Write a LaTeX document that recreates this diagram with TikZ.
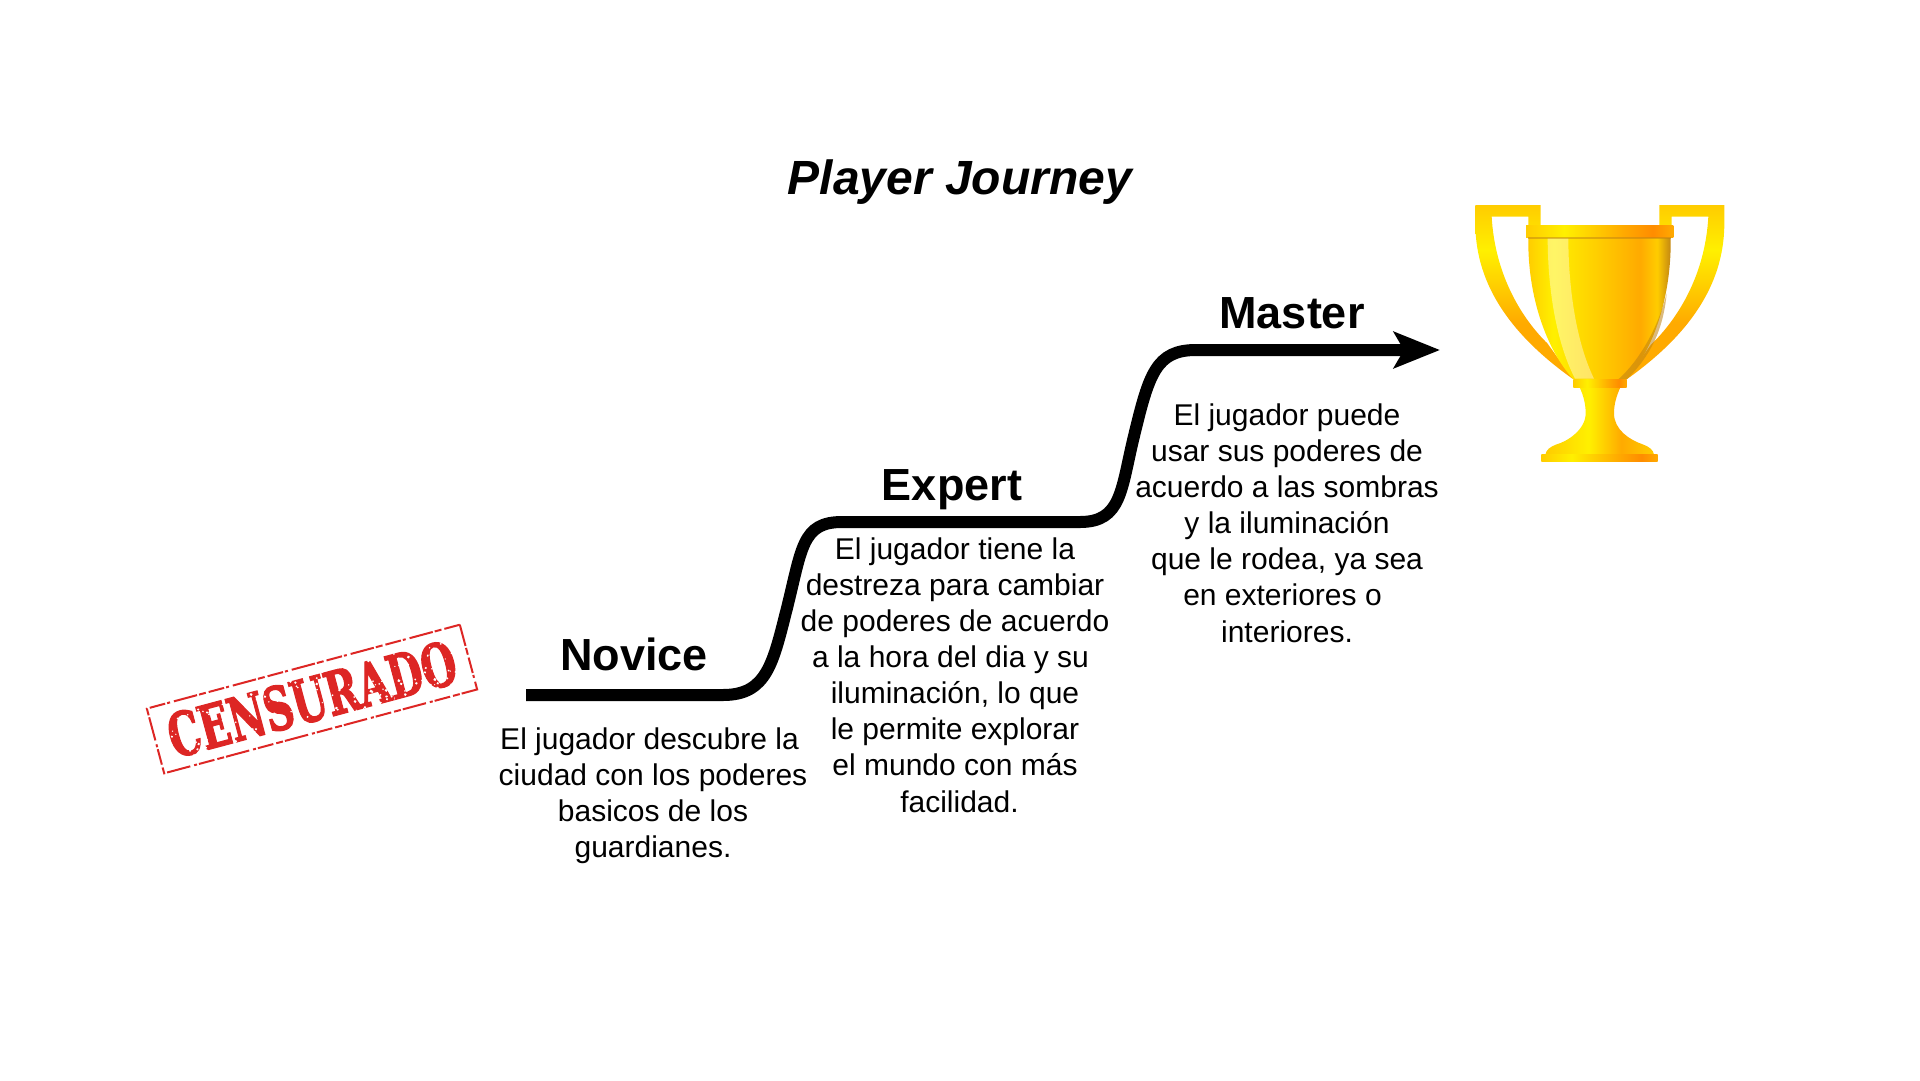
\documentclass[tikz,border=0pt]{standalone}
\usepackage{fontspec}
\setmainfont{Liberation Sans}
\newfontfamily\stampfont[BoldFont={DejaVu Serif Bold}, BoldFeatures={FakeBold=2.5}]{DejaVu Serif}
\usetikzlibrary{arrows.meta, positioning}

% trophy colours
\definecolor{stampred}{RGB}{221,38,36}
\definecolor{goldA}{RGB}{255,204,0}
\definecolor{goldB}{RGB}{255,240,0}
\definecolor{goldC}{RGB}{255,170,0}
\definecolor{goldD}{RGB}{255,140,0}
\definecolor{goldE}{RGB}{190,130,20}
\pgfdeclarehorizontalshading{rimgold}{100bp}{color(0bp)=(goldA); color(25bp)=(goldA); color(38bp)=(goldB); color(58bp)=(goldC); color(68bp)=(goldD); color(75bp)=(goldC); color(100bp)=(goldC)}
\pgfdeclarehorizontalshading{cupgold}{100bp}{color(0bp)=(goldA); color(25bp)=(goldA); color(34bp)=(goldB); color(50bp)=(goldA); color(64bp)=(goldC); color(70bp)=(goldA); color(75bp)=(goldE); color(100bp)=(goldE)}
\pgfdeclarehorizontalshading{stemgold}{100bp}{color(0bp)=(goldA); color(25bp)=(goldA); color(45bp)=(goldB); color(60bp)=(goldC); color(75bp)=(goldA); color(100bp)=(goldA)}
\pgfdeclareverticalshading{handlegold}{100bp}{color(0bp)=(goldC); color(41bp)=(goldC); color(62bp)=(goldB); color(75bp)=(goldA); color(100bp)=(goldA)}

\begin{document}
\begin{tikzpicture} [
    x=1pt, y=-1pt,
    every node/.style={inner sep=0pt, align=center},
    levelname/.style={font=\fontsize{45}{50}\selectfont\bfseries},
    leveltext/.style={font=\fontsize{30}{36.1}\selectfont},
    journey/.style={draw, line width=12pt, -{Stealth[length=46pt, width=36pt, inset=10pt]}},
    stampbox/.style={draw=stampred, line width=2pt, rotate=15, minimum width=324pt, minimum height=67pt,
      dash pattern=on 16pt off 3pt on 7pt off 2pt on 24pt off 4pt on 3pt off 2pt, text=stampred}
  ]
  \useasboundingbox (0,0) rectangle (1920,1080);

  % Title
  \node (TITLE) at (960,182) {\fontsize{48}{54}\selectfont\bfseries\itshape Player Journey};

  % Levels
  \node (NOVICE) [levelname] at (634,654) {Novice};
  \node (EXPERT) [levelname] at (952,490) {Expert};
  \node (MASTER) [levelname] at (1292,313) {Master};

  % Texts
  \node (NOVICETXT) [leveltext] at (653,796) {El jugador descubre la\rule{7pt}{0pt}\\ciudad con los poderes\\basicos de los\\guardianes.};
  \node (EXPERTTXT) [leveltext] at (955,675) {El jugador tiene la\\destreza para cambiar\\de poderes de acuerdo\\a la hora del dia y su\rule{9pt}{0pt}\\iluminación, lo que\\le permite explorar\\el mundo con más\\\rule{9pt}{0pt}facilidad.};
  \node (MASTERTXT) [leveltext] at (1287,523) {El jugador puede\\usar sus poderes de\\acuerdo a las sombras\\y la iluminación\\que le rodea, ya sea\\en exteriores o\rule{9pt}{0pt}\\interiores.};

  % Stamp
  \node (STAMP) [stampbox] at (312,699) {\stampfont\bfseries\fontsize{40}{40}\selectfont\scalebox{1}[1.5]{CENSURADO}};
  \begin{scope}[shift={(STAMP.center)}, rotate=15]
    \pgfmathsetseed{7}
    \foreach \i in {1,...,170}
      \fill[white] ({150*rand},{25*rand}) circle ({0.6+1.1*rnd});
  \end{scope}

  % Path
  \coordinate (START) at (526,695);
  \coordinate (STEP1) at (723,695);
  \coordinate (MID1) at (787,608);
  \coordinate (FLAT1) at (842,522);
  \coordinate (STEP2) at (1080,522);
  \coordinate (MID2) at (1134,436);
  \coordinate (FLAT2) at (1196,350);
  \coordinate (TIP) at (1440,350);
  \draw[journey] (START) -- (STEP1)
    .. controls (767,695) and (773,663) .. (MID1)
    .. controls (802,548) and (802,522) .. (FLAT1)
    -- (STEP2)
    .. controls (1122,522) and (1121,489) .. (MID2)
    .. controls (1149,374) and (1156,350) .. (FLAT2)
    -- (TIP);

  % Trophy
  \begin{scope}[shift={(1440,180)}, scale=1/3]
    \shade[shading=handlegold] (106,75) -- (302,75) -- (302,140) -- (265,140) -- (265,110) -- (155,110)
      .. controls (165,290) and (250,420) .. (322,490) -- (400,598)
      .. controls (220,470) and (106,320) .. (106,130) -- cycle;
    \shade[shading=handlegold] (853,75) -- (658,75) -- (658,140) -- (695,140) -- (695,110) -- (805,110)
      .. controls (795,290) and (710,420) .. (632,495) -- (560,598)
      .. controls (740,470) and (853,320) .. (853,130) -- cycle;
    \shade[shading=stemgold] (418,620) .. controls (432,650) and (437,675) .. (437,700)
      .. controls (437,750) and (380,785) .. (350,793) .. controls (330,800) and (318,810) .. (316,824)
      -- (642,824) .. controls (640,810) and (628,800) .. (608,793)
      .. controls (570,780) and (522,750) .. (522,700) .. controls (522,675) and (528,650) .. (542,620) -- cycle;
    \shade[shading=cupgold] (265,172) -- (692,172) .. controls (695,350) and (640,510) .. (560,598)
      -- (400,598) .. controls (320,510) and (262,350) .. (265,172) -- cycle;
    \fill[goldE, opacity=.55] (535,598) .. controls (600,540) and (655,440) .. (680,340)
      .. controls (670,450) and (630,530) .. (560,598) -- cycle;
    \fill[white, opacity=.4] (323,172) -- (385,172) .. controls (385,330) and (410,490) .. (462,596)
      -- (405,596) .. controls (350,490) and (323,330) .. (323,172) -- cycle;
    \shade[shading=rimgold] (258,136) rectangle (700,172);
    \fill[goldE, opacity=.5] (265,172) rectangle (692,177);
    \shade[shading=rimgold] (400,598) rectangle (560,623);
    \shade[shading=rimgold] (304,822) rectangle (653,843);
  \end{scope}

\end{tikzpicture}
\end{document}
